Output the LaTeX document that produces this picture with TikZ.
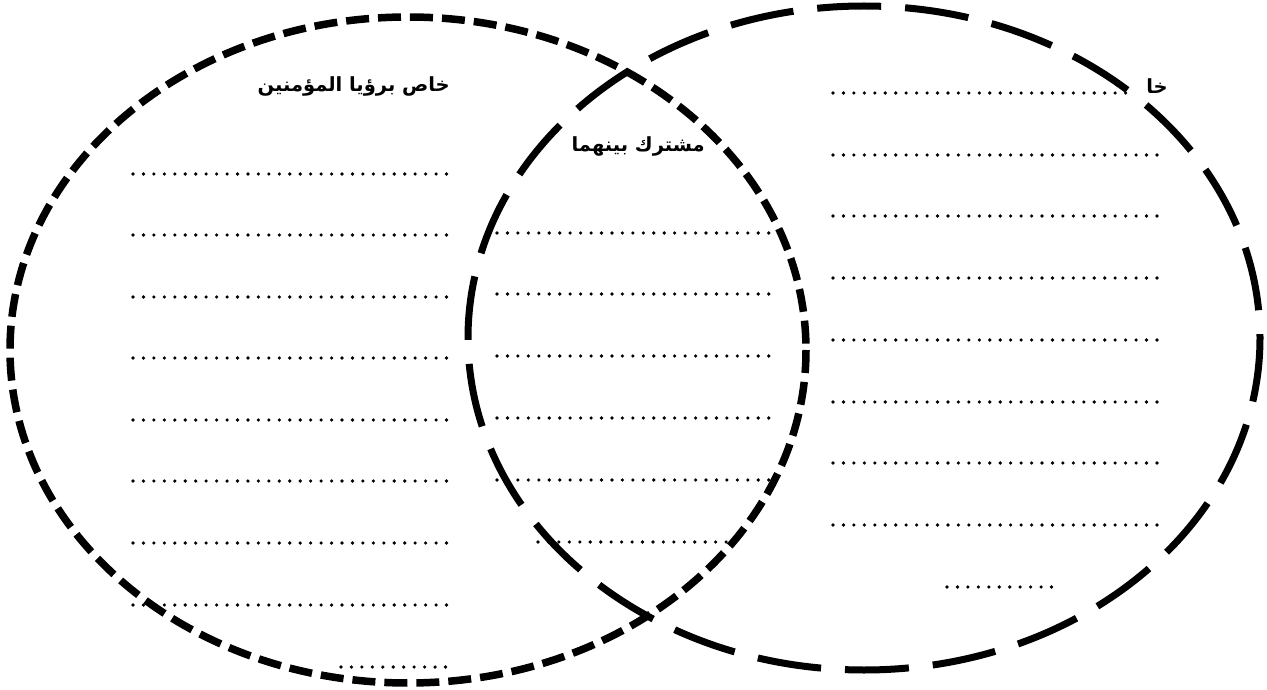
\documentclass[tikz,border=0pt]{standalone}
\usepackage{fontspec}
\newfontfamily\arabicfont[Script=Arabic]{DejaVu Sans}
\TeXXeTstate=1
\tikzset{
  shortdash/.style={line width=7.5pt, dash pattern=on 23pt off 9pt},
  longdash/.style={line width=7pt, dash pattern=on 64pt off 24pt},
  dotrow/.style={line width=3.6pt, line cap=round, dash pattern=on 0pt off 10.45pt},
  label/.style={font=\arabicfont\bfseries\fontsize{19.5}{22}\selectfont, inner sep=0pt}
}
\begin{document}
\begin{tikzpicture}[x=1pt,y=-1pt]
\useasboundingbox (0,0) rectangle (1267,690);
% ellipses
\draw[shortdash] (408,350) ellipse [x radius=398, y radius=333];
\draw[longdash] (864,338) ellipse [x radius=396, y radius=332];
% left column
\foreach \yy in {174,235,297,358,420,481,543,605}
  \draw[dotrow] (133,\yy) -- (447,\yy);
\draw[dotrow] (341,667) -- (447,667);
% middle column
\foreach \yy/\xe in {233/770,294/778,356/778,418/778,480/770}
  \draw[dotrow] (497,\yy) -- (\xe,\yy);
\draw[dotrow] (538,542) -- (728,542);
% right column
\draw[dotrow] (833,93) -- (1135,93);
\foreach \yy in {155,216,278,340,402,463,525}
  \draw[dotrow] (833,\yy) -- (1166,\yy);
\draw[dotrow] (947,587) -- (1052,587);
% labels
\node[label, anchor=east] (leftlbl) at (450,86) {\beginR خاص برؤيا المؤمنين\endR};
\node[label, anchor=east] (midlbl) at (705,146) {\beginR مشترك بينهما\endR};
\node[label, anchor=east] (rightlbl) at (1168,86) {\beginR خا\endR};
\end{tikzpicture}
\end{document}
